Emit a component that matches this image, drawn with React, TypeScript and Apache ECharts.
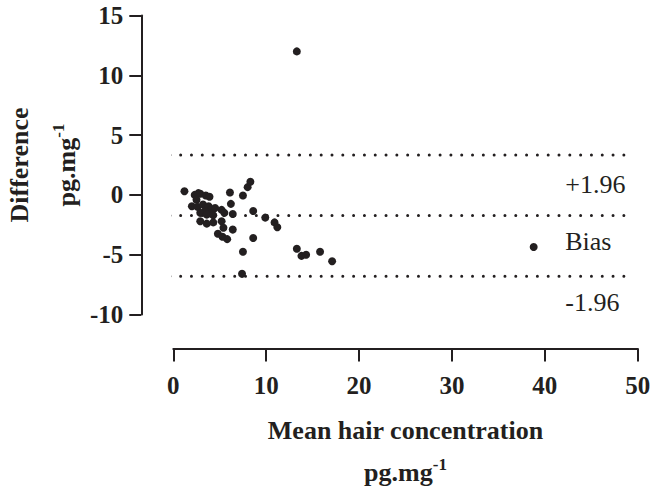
import React, { useEffect, useRef } from "react";
import * as echarts from "echarts";

const points: number[][] = [
  [1.2, 0.3], [2.3, 0.0], [2.7, 0.15], [2.9, 0.1], [3.5, -0.05], [3.9, -0.15], [6.1, 0.2], [7.5, -0.05], [8.0, 0.65], [8.3, 1.1],
  [2.5, -0.4], [2.0, -0.95], [2.6, -1.0], [3.2, -0.8], [3.8, -0.95], [4.1, -1.2], [3.4, -1.35], [4.1, -1.55], [4.5, -1.1], [5.2, -1.25],
  [5.5, -1.5], [6.2, -0.75], [6.4, -1.6], [2.9, -1.5], [3.6, -1.65], [4.3, -1.7], [8.6, -1.35],
  [2.9, -2.2], [3.6, -2.4], [4.3, -2.3], [5.2, -2.2], [5.4, -2.75], [6.4, -2.9], [4.8, -3.25], [5.3, -3.5], [5.8, -3.7], [8.6, -3.6],
  [7.5, -4.75], [7.4, -6.6],
  [9.9, -1.9], [10.9, -2.3], [11.2, -2.7], [13.3, -4.5], [13.8, -5.1], [14.3, -5.0], [15.8, -4.75], [17.1, -5.55],
  [13.3, 12.0], [38.8, -4.35],
];

const upperLimit = 3.33;
const bias = -1.73;
const lowerLimit = -6.8;
const lineStartX = -2.7;
const lineEndX = 49.0;

const annotationLabels = ["+1.96", "Bias", "-1.96"];
const annotationX = 42.2;
const annotationY = [0.86, -3.88, -9.0];

const xTicks = [0, 10, 20, 30, 40, 50];
const yTicks = [-10, -5, 0, 5, 10, 15];

const FONT = "Liberation Serif";
const INK = "#231f20";

export default function App() {
  const ref = useRef<HTMLDivElement>(null);
  useEffect(() => {
    document.body.style.margin = "0";
    if (!ref.current) return;
    const chart = echarts.init(ref.current, null, { renderer: "svg" });
    const dotted = {
      color: INK,
      width: 3,
      type: [0.01, 10.8] as any,
      cap: "round" as any,
    };
    const limitLine = (y: number) => ({
      type: "line",
      data: [[lineStartX, y], [lineEndX, y]],
      symbol: "none",
      clip: false,
      lineStyle: dotted,
      silent: true,
      z: 1,
    });
    chart.setOption({
      animation: false,
      textStyle: { fontFamily: FONT },
      grid: { left: 173.3, right: 12.3, top: 15.5, bottom: 174.5, containLabel: false, outerBoundsMode: "none" },
      xAxis: {
        type: "value",
        min: xTicks[0],
        max: xTicks[xTicks.length - 1],
        interval: 10,
        offset: 34,
        axisLine: { show: true, onZero: false, lineStyle: { color: INK, width: 2 } },
        axisTick: { show: true, length: 13, lineStyle: { color: INK, width: 2 } },
        axisLabel: { color: INK, fontSize: 25, fontWeight: "bold", fontFamily: FONT, margin: 24 },
        splitLine: { show: false },
        name: "{t|Mean hair concentration}\n{t|pg.mg}{sup|-1}",
        nameLocation: "middle",
        nameGap: 61,
        nameTextStyle: {
          rich: {
            t: { fontSize: 26, fontWeight: "bold", color: INK, fontFamily: FONT, lineHeight: 42 },
            sup: { fontSize: 17, fontWeight: "bold", color: INK, fontFamily: FONT, lineHeight: 42, padding: [0, 0, 16, 0] },
          },
        },
      },
      yAxis: {
        type: "value",
        min: yTicks[0],
        max: yTicks[yTicks.length - 1],
        interval: 5,
        offset: 32,
        axisLine: { show: true, onZero: false, lineStyle: { color: INK, width: 2 } },
        axisTick: { show: true, length: 12, lineStyle: { color: INK, width: 2 } },
        axisLabel: { color: INK, fontSize: 25, fontWeight: "bold", fontFamily: FONT, margin: 18 },
        splitLine: { show: false },
        name: "{t|Difference}\n{t|pg.mg}{sup|-1}",
        nameLocation: "middle",
        nameRotate: 90,
        nameGap: 51,
        nameMoveOverlap: false,
        nameTextStyle: {
          rich: {
            t: { fontSize: 26, fontWeight: "bold", color: INK, fontFamily: FONT, lineHeight: 47 },
            sup: { fontSize: 17, fontWeight: "bold", color: INK, fontFamily: FONT, lineHeight: 47, padding: [0, 0, 16, 0] },
          },
        },
      },
      series: [
        limitLine(upperLimit),
        limitLine(bias),
        limitLine(lowerLimit),
        {
          type: "scatter",
          data: points,
          symbolSize: 8,
          itemStyle: { color: INK, opacity: 1 },
          z: 3,
        },
        {
          type: "scatter",
          data: annotationLabels.map((l, i) => [annotationX, annotationY[i], l]),
          symbolSize: 0,
          clip: false,
          itemStyle: { opacity: 1 },
          label: {
            show: true,
            position: "inside",
            align: "left",
            formatter: (p: any) => p.data[2],
            fontSize: 26,
            color: INK,
            fontFamily: FONT,
          },
          silent: true,
        },
      ],
    });
    return () => chart.dispose();
  }, []);
  return <div ref={ref} style={{ width: 650, height: 489 }} />;
}
